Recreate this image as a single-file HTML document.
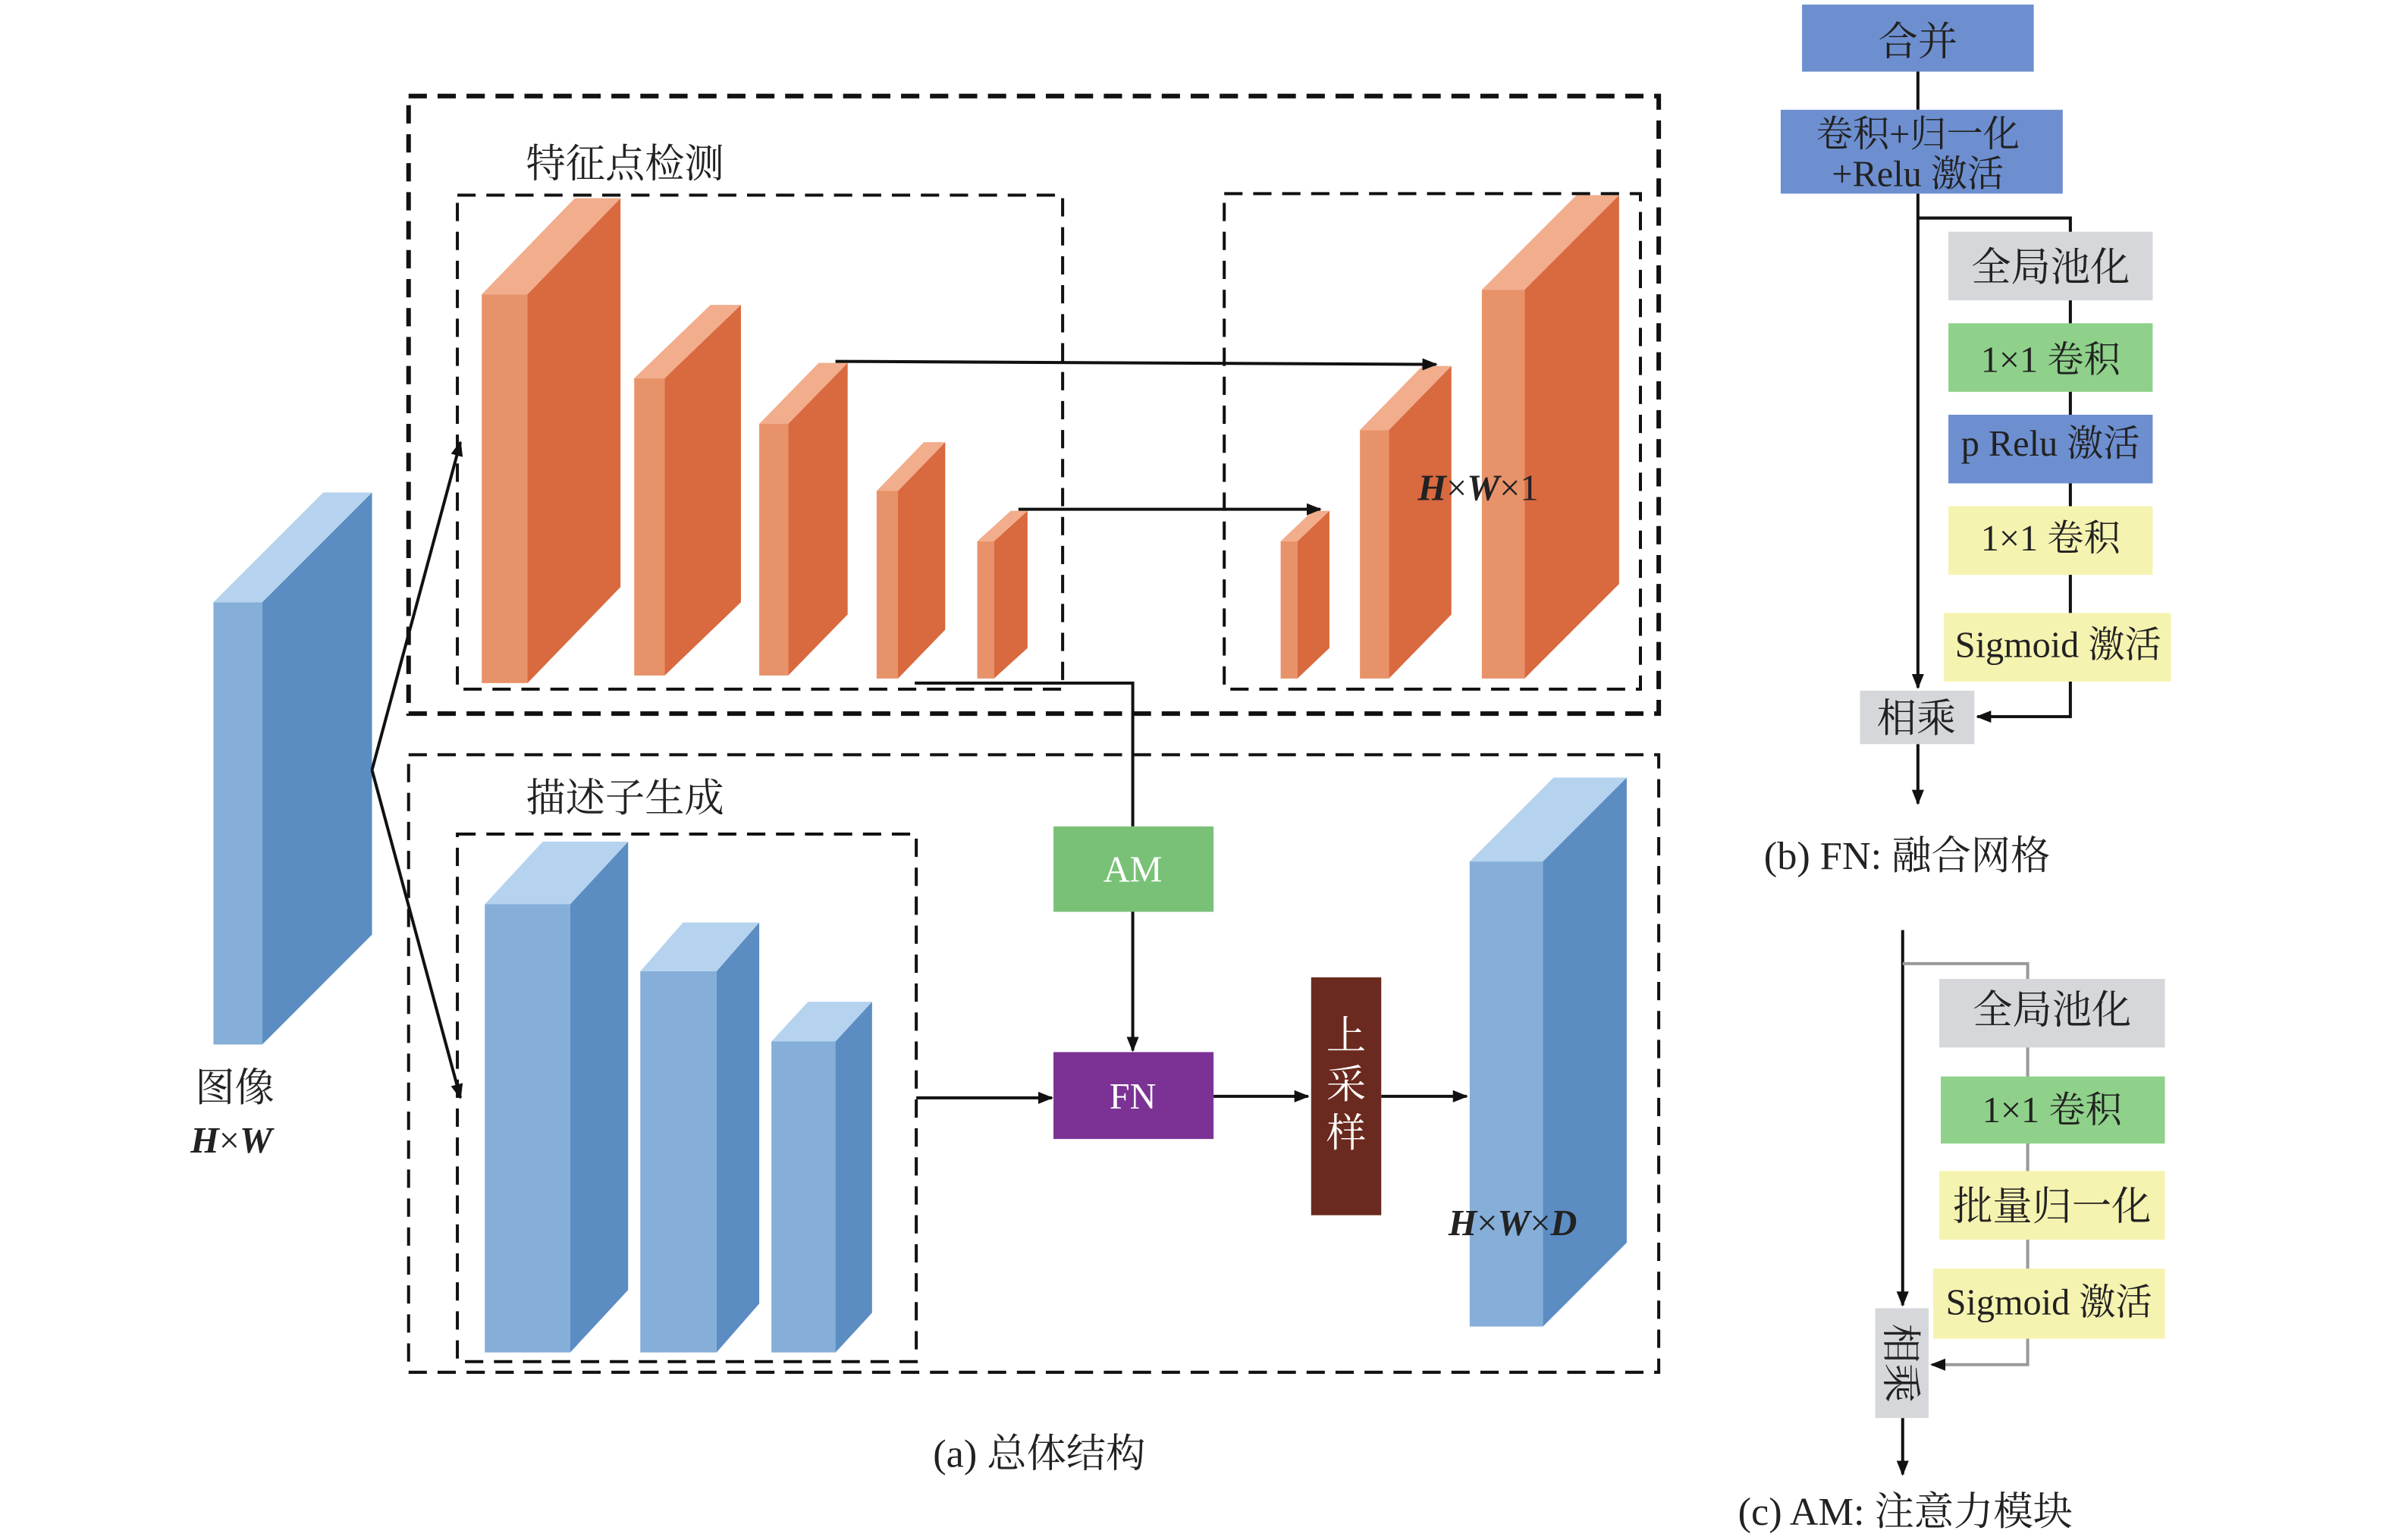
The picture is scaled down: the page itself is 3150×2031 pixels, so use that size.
<!DOCTYPE html>
<html><head><meta charset="utf-8"><style>
html,body{margin:0;padding:0;background:#fff}
svg{display:block}
text{font-family:"Liberation Serif","Noto Serif CJK SC",serif;fill:#222}
</style></head><body>
<svg width="3150" height="2031" viewBox="0 0 1567 1010" preserveAspectRatio="none" xmlns="http://www.w3.org/2000/svg">
<defs><marker id="ar" markerWidth="10" markerHeight="10" refX="9" refY="5" orient="auto" markerUnits="userSpaceOnUse"><path d="M0,1 L10,5 L0,9 Z" fill="#111"/></marker></defs>
<g id="boxes"></g>
<g fill="none" stroke="#111" stroke-dasharray="12,7">
<rect x="268" y="63" width="820" height="405" stroke-width="3"/>
<rect x="300" y="128" width="397" height="324" stroke-width="2"/>
<rect x="803" y="127" width="273" height="325" stroke-width="2"/>
<rect x="268" y="495" width="820" height="405" stroke-width="2"/>
<rect x="300" y="547" width="301" height="346" stroke-width="2"/>
</g>
<g stroke="#111" stroke-width="2" fill="none">
<path d="M244,505 L302,290" marker-end="url(#ar)"/>
<path d="M244,505 L302,720" marker-end="url(#ar)"/>
<path d="M548,237 L942,239" marker-end="url(#ar)"/>
<path d="M668,334 L866,334" marker-end="url(#ar)"/>
<path d="M600,448 L743,448 L743,542"/>
<path d="M743,598 L743,689" marker-end="url(#ar)"/>
<path d="M601,720 L690,720" marker-end="url(#ar)"/>
<path d="M796,719 L858,719" marker-end="url(#ar)"/>
<path d="M906,719 L962,719" marker-end="url(#ar)"/>
</g>
<rect x="691" y="542" width="105" height="56" fill="#7ac178"/>
<text x="743" y="578" text-anchor="middle" font-size="24" style="fill:#fff">AM</text>
<rect x="691" y="690" width="105" height="57" fill="#7b3294"/>
<text x="743" y="727" text-anchor="middle" font-size="24" style="fill:#fff">FN</text>
<rect x="860" y="641" width="46" height="156" fill="#6b2a1f"/>
<text x="883" y="688" text-anchor="middle" font-size="26" style="fill:#fff">上</text>
<text x="883" y="720" text-anchor="middle" font-size="26" style="fill:#fff">采</text>
<text x="883" y="752" text-anchor="middle" font-size="26" style="fill:#fff">样</text>
<text x="345" y="116" font-size="26">特征点检测</text>
<text x="345" y="532" font-size="26">描述子生成</text>
<text x="930" y="328" font-size="24" font-weight="bold" font-style="italic">H<tspan font-weight="normal" font-style="normal">×</tspan>W<tspan font-weight="normal" font-style="normal">×1</tspan></text>
<text x="950" y="810" font-size="24" font-weight="bold" font-style="italic">H<tspan font-weight="normal" font-style="normal">×</tspan>W<tspan font-weight="normal" font-style="normal">×</tspan>D</text>
<text x="128" y="722" font-size="26">图像</text>
<text x="125" y="756" font-size="24" font-weight="bold" font-style="italic">H<tspan font-weight="normal" font-style="normal">×</tspan>W</text>
<text x="612" y="962" font-size="26">(a) 总体结构</text>
<g stroke="#111" stroke-width="2" fill="none">
<path d="M1258,47 L1258,72"/>
<path d="M1258,127 L1258,451" marker-end="url(#ar)"/>
<path d="M1258,143 L1358,143 L1358,470 L1297,470" marker-end="url(#ar)"/>
<path d="M1258,488 L1258,527" marker-end="url(#ar)"/>
<path d="M1248,610 L1248,856" marker-end="url(#ar)"/>
<path d="M1248,632 L1330,632 L1330,895 L1267,895" stroke="#999" marker-end="url(#ar)"/>
<path d="M1248,930 L1248,967" marker-end="url(#ar)"/>
</g>
<rect x="1182" y="3" width="152" height="44" fill="#6d8fd0"/><text x="1258" y="36" text-anchor="middle" font-size="26">合并</text>
<rect x="1168" y="72" width="185" height="55" fill="#6d8fd0"/><text x="1258" y="96" text-anchor="middle" font-size="24">卷积+归一化</text><text x="1258" y="122" text-anchor="middle" font-size="24">+Relu 激活</text>
<rect x="1278" y="152" width="134" height="45" fill="#d5d7da"/><text x="1345" y="184" text-anchor="middle" font-size="26">全局池化</text>
<rect x="1278" y="212" width="134" height="45" fill="#8fd18a"/><text x="1345" y="244" text-anchor="middle" font-size="24">1×1 卷积</text>
<rect x="1278" y="272" width="134" height="45" fill="#6d8fd0"/><text x="1345" y="299" text-anchor="middle" font-size="24">p Relu 激活</text>
<rect x="1278" y="332" width="134" height="45" fill="#f5f3b0"/><text x="1345" y="361" text-anchor="middle" font-size="24">1×1 卷积</text>
<rect x="1275" y="402" width="149" height="45" fill="#f5f3b0"/><text x="1350" y="431" text-anchor="middle" font-size="24">Sigmoid 激活</text>
<rect x="1220" y="453" width="75" height="35" fill="#d5d7da"/><text x="1257" y="480" text-anchor="middle" font-size="26">相乘</text>
<text x="1157" y="570" font-size="26">(b) FN: 融合网格</text>
<rect x="1272" y="642" width="148" height="45" fill="#d5d7da"/><text x="1346" y="671" text-anchor="middle" font-size="26">全局池化</text>
<rect x="1273" y="706" width="147" height="44" fill="#8fd18a"/><text x="1346" y="736" text-anchor="middle" font-size="24">1×1 卷积</text>
<rect x="1272" y="768" width="148" height="45" fill="#f5f3b0"/><text x="1346" y="800" text-anchor="middle" font-size="26">批量归一化</text>
<rect x="1268" y="832" width="152" height="46" fill="#f5f3b0"/><text x="1344" y="862" text-anchor="middle" font-size="24">Sigmoid 激活</text>
<rect x="1230" y="858" width="35" height="72" fill="#d5d7da"/>
<text x="1247" y="894" text-anchor="middle" font-size="26" transform="rotate(90 1247 894)" dy="9">相乘</text>
<text x="1140" y="1000" font-size="26">(c) AM: 注意力模块</text>
</svg>
<script>
const orange={f:"#e8926a",s:"#d9693f",t:"#f2ad8c"}, blue={f:"#85aed8",s:"#5b8cc2",t:"#b5d3ee"};
const blocks=[
[316,193,30,255,61,63,orange],[416,248,20,195,50,48,orange],[498,278,19,165,39,40,orange],
[575,322,14,123,31,32,orange],[641,355,11,90,22,20,orange],[840,355,11,90,21,20,orange],
[892,282,19,163,41,42,orange],[972,190,28,255,62,62,orange],
[140,395,32,290,72,72,blue],[318,593,56,294,38,41,blue],[420,637,50,250,28,32,blue],
[506,683,42,204,24,26,blue],[964,565,48,305,55,55,blue]];
const g=document.getElementById('boxes');const ns="http://www.w3.org/2000/svg";
blocks.forEach((b,i)=>{const [x,y,w,h,dx,dy,c]=b;
const grp=document.createElementNS(ns,'g');


const polys=[[`${x},${y} ${x+w},${y} ${x+w},${y+h} ${x},${y+h}`,c.f],
[`${x+w},${y} ${x+w+dx},${y-dy} ${x+w+dx},${y+h-dy} ${x+w},${y+h}`,c.s],
[`${x},${y} ${x+dx},${y-dy} ${x+w+dx},${y-dy} ${x+w},${y}`,c.t]];
polys.forEach(p=>{const e=document.createElementNS(ns,'polygon');e.setAttribute('points',p[0]);e.setAttribute('fill',p[1]);grp.appendChild(e);});
g.appendChild(grp);});
</script>
</body></html>
